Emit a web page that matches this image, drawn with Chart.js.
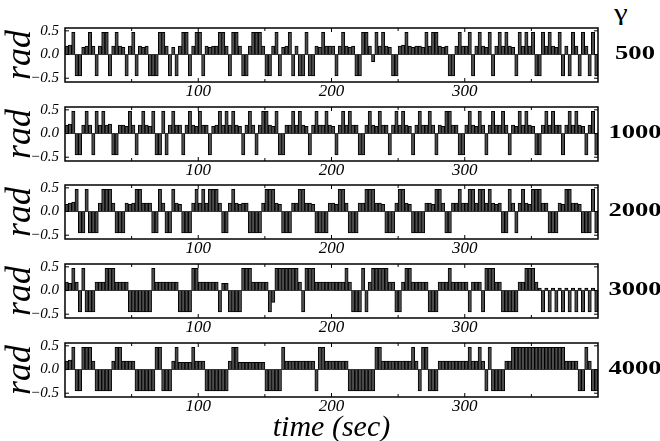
<!DOCTYPE html>
<html>
<head>
<meta charset="utf-8">
<script src="https://cdn.jsdelivr.net/npm/chart.js@4.4.1/dist/chart.umd.min.js"></script>
<style>
  html, body { margin: 0; padding: 0; background: #fff; }
  #page { position: relative; width: 660px; height: 441px; overflow: hidden; }
  .panel { position: absolute; left: 0; }
  .glabel {
    position: absolute; left: 605px; width: 60px; text-align: center;
    font: bold 19px 'Liberation Serif', 'Times New Roman', serif;
    line-height: 20px; color: #000; transform: scaleX(1.4);
  }
  #gamma {
    position: absolute; left: 609px; top: 1px; width: 24px; text-align: center;
    font: 23px 'Liberation Serif', 'Times New Roman', serif;
    line-height: 24px; color: #000; transform: scaleX(1.35);
  }
</style>
</head>
<body>
<div id="page"><div id="gamma">γ</div></div>
<script>
// =================== DATA (rad) ===================
const gammaLabels = ["500", "1000", "2000", "3000", "4000"];
const xTickValues = [50, 100, 150, 200, 250, 300, 350];
const xTickLabels = [100, 200, 300];
const yTickValues = [-0.5, -0.25, 0, 0.25, 0.5];
const yTickLabels = { "0.5": "0.5", "0": "0.0", "-0.5": "\u22120.5" };
const SAMPLE_DT = 2.5; // sec per bar

const u500 = [
  0.18,0.2,0.47,-0.45,-0.45,0.15,0.18,0.47,0.18,-0.45,
  0.18,0.47,0.47,-0.45,0.18,0.47,0.18,0.15,-0.45,0.18,
  0.47,-0.45,0.18,0.15,0.18,-0.45,-0.45,-0.45,0.47,0.47,
  0.18,-0.45,0.15,-0.45,0.18,0.47,0.47,-0.45,0.18,0.47,
  0.47,-0.45,0.18,0.15,0.18,0.18,0.47,0.47,0.18,-0.45,
  0.47,0.47,0.18,-0.45,-0.45,0.18,0.47,0.47,0.47,0.18,
  -0.45,-0.45,0.18,0.47,-0.45,0.15,0.18,0.47,-0.45,0.18,
  -0.45,-0.45,0.47,-0.45,-0.45,0.18,0.15,0.47,0.18,0.18,
  0.18,-0.45,0.18,0.47,0.18,0.15,0.18,-0.45,-0.45,0.47,
  0.47,0.18,-0.15,0.47,0.18,0.47,0.18,0.15,-0.45,-0.45,
  0.18,0.2,0.47,0.18,0.15,0.18,0.18,0.15,0.47,0.18,
  0.47,0.47,0.18,0.15,0.18,-0.45,-0.45,0.18,0.47,0.18,
  0.18,0.47,-0.45,0.18,0.47,0.18,0.15,0.47,-0.45,0.18,
  0.47,0.18,0.47,0.18,0.15,-0.45,0.47,0.18,0.47,0.18,
  0.47,-0.45,-0.45,0.47,0.18,0.47,0.18,0.15,0.47,-0.45,
  0.18,-0.45,0.47,0.18,-0.45,0.47,0.18,-0.45,0.47,-0.45
];
const u1000 = [
  0.18,0.2,0.47,-0.45,-0.45,0.18,0.47,0.18,-0.45,0.47,
  0.18,0.47,0.18,0.2,-0.45,-0.45,0.18,0.18,0.15,0.47,
  0.18,-0.45,0.18,0.47,0.18,0.15,0.47,-0.45,-0.45,0.47,
  -0.45,0.18,0.47,0.18,0.18,-0.45,0.18,0.47,0.18,0.15,
  0.47,0.18,0.18,-0.45,0.15,0.18,0.47,0.18,0.47,0.18,
  0.47,0.18,0.15,-0.45,0.18,0.47,0.18,-0.45,0.18,0.47,
  0.47,0.18,0.15,0.47,-0.45,-0.45,0.18,0.18,0.47,0.18,
  0.47,0.18,0.15,-0.45,0.18,0.47,0.18,0.18,0.47,0.18,
  0.15,-0.45,0.18,0.47,0.18,0.47,0.18,0.18,-0.45,-0.45,
  0.18,0.47,0.18,0.15,0.47,0.18,0.18,-0.45,0.18,0.47,
  0.18,0.47,0.18,0.15,-0.45,0.18,0.47,0.18,0.18,0.47,
  0.18,-0.45,0.18,0.15,0.47,0.47,0.18,0.18,-0.45,-0.45,
  0.18,0.47,0.18,0.15,0.47,0.18,-0.45,0.18,0.47,0.18,
  0.18,0.47,0.18,-0.45,0.18,0.15,0.47,0.18,0.47,0.18,
  0.15,-0.45,-0.45,0.18,0.47,0.18,0.47,0.18,0.18,-0.45,
  0.18,0.47,0.18,0.47,0.18,0.15,-0.45,0.18,0.47,-0.45
];
const u2000 = [
  0.15,0.18,0.2,0.47,-0.45,-0.45,0.47,-0.45,-0.45,-0.45,
  0.18,0.47,0.47,0.47,0.18,-0.45,-0.45,-0.45,0.18,0.15,
  0.18,0.47,0.47,0.18,0.18,0.18,-0.45,-0.45,0.47,0.18,
  -0.45,-0.45,0.47,0.18,0.15,-0.45,-0.45,-0.45,0.18,0.47,
  0.18,0.47,0.18,0.47,0.47,0.47,0.18,-0.45,-0.45,0.18,
  0.47,0.18,0.15,0.18,0.18,-0.45,-0.45,-0.45,-0.45,0.18,
  0.47,0.47,0.47,0.18,0.15,-0.45,-0.45,-0.45,0.18,0.18,
  0.47,0.47,0.18,0.18,0.15,-0.45,-0.45,-0.45,-0.45,0.18,
  0.18,0.15,0.47,0.47,0.18,-0.45,-0.45,-0.45,0.18,0.18,
  0.47,0.47,0.47,0.18,0.18,0.15,-0.45,-0.45,-0.45,0.18,
  0.47,0.47,0.18,0.15,-0.45,-0.45,-0.45,-0.45,0.18,0.18,
  0.15,0.47,0.47,0.18,-0.45,-0.45,0.18,0.18,0.47,0.18,
  0.18,0.47,0.47,0.18,0.47,0.47,0.18,0.47,0.18,0.15,
  0.18,-0.45,-0.45,0.47,0.18,-0.45,0.18,0.47,0.18,0.15,
  0.47,0.47,0.47,0.18,0.18,-0.45,-0.45,-0.45,0.18,0.15,
  0.47,0.47,0.18,0.18,0.15,-0.45,-0.45,-0.45,0.47,-0.45
];
const u3000 = [
  0.18,0.15,0.47,0.18,-0.45,0.47,-0.45,-0.45,-0.45,0.18,
  0.18,0.18,0.47,0.47,0.47,0.18,0.18,0.18,0.18,-0.45,
  -0.45,-0.45,-0.45,-0.45,-0.45,-0.45,0.47,0.18,0.18,0.18,
  0.18,0.18,0.18,0.18,-0.45,-0.45,-0.45,-0.45,0.47,0.47,
  0.18,0.18,0.18,0.18,0.18,0.18,-0.45,0.15,0.15,-0.45,
  -0.45,-0.45,-0.45,0.47,0.47,0.47,0.18,0.18,0.18,0.18,
  0.18,-0.45,-0.25,0.47,0.47,0.47,0.47,0.47,0.47,0.47,
  0.18,-0.45,0.47,0.47,0.47,0.18,0.18,0.18,0.18,0.18,
  0.18,0.18,0.18,0.18,0.47,0.18,-0.45,-0.45,-0.45,0.47,
  -0.45,0.18,0.47,0.47,0.47,0.47,0.47,0.18,0.18,-0.45,
  -0.45,0.18,0.47,0.47,0.18,0.18,0.18,0.18,0.18,-0.45,
  -0.45,-0.45,0.18,0.18,0.18,0.47,0.18,0.18,0.18,0.18,
  0.18,-0.45,0.18,0.18,0.18,-0.45,0.47,0.47,0.47,0.18,
  0.18,-0.45,-0.45,-0.45,-0.45,-0.45,0.18,0.18,0.47,0.47,
  0.47,0.18,0.05,-0.45,0.05,-0.45,0.05,-0.45,0.05,-0.45,
  0.05,-0.45,0.05,-0.45,0.05,-0.45,0.05,-0.45,0.05,-0.45
];
const u4000 = [
  0.18,0.2,0.47,-0.45,-0.45,0.47,0.47,0.47,0.18,-0.45,
  -0.45,-0.45,-0.45,-0.45,0.18,0.47,0.47,0.18,0.18,0.18,
  0.18,-0.45,-0.45,-0.45,-0.45,-0.45,-0.45,0.47,0.47,-0.45,
  -0.45,-0.45,0.18,0.47,0.15,0.15,0.15,0.15,0.47,0.18,
  0.18,0.18,-0.45,-0.45,-0.45,-0.45,-0.45,-0.45,-0.45,0.18,
  0.47,0.47,0.15,0.15,0.15,0.15,0.15,0.15,0.15,0.15,
  -0.45,-0.45,-0.45,-0.45,-0.45,0.47,0.18,0.18,0.18,0.18,
  0.18,0.18,0.18,0.18,0.18,-0.45,0.47,0.47,0.18,0.18,
  0.18,0.18,0.18,0.18,0.18,-0.45,-0.45,-0.45,-0.45,-0.45,
  -0.45,-0.45,-0.45,0.47,0.47,0.18,0.18,0.18,0.18,0.18,
  0.18,0.18,0.18,0.18,0.47,0.18,-0.45,0.47,0.47,-0.45,
  -0.45,-0.45,0.18,0.18,0.18,0.18,0.18,0.18,0.18,0.18,
  0.18,0.47,0.18,0.18,0.47,0.18,-0.45,0.47,-0.45,-0.45,
  -0.45,-0.45,0.18,0.18,0.47,0.47,0.47,0.47,0.47,0.47,
  0.47,0.47,0.47,0.47,0.47,0.47,0.47,0.47,0.47,0.47,
  0.18,0.18,0.18,0.18,-0.45,-0.45,0.47,0.18,-0.45,-0.45
];

const series = [u500, u1000, u2000, u3000, u4000];
const times = u500.map((_, i) => (i + 0.5) * SAMPLE_DT);

// =================== LAYOUT ===================
const SERIF = "'Liberation Serif', 'Times New Roman', serif";
const PAD_TOP = 4;
const PLOT_H = 54;
const AXIS_H = 20;
const AXIS_H_LAST = 46;
const plotTops = [28, 107, 185, 264, 343];

// box with inward ticks on all four sides
const frameTicks = {
  id: "frameTicks",
  afterDatasetsDraw(chart) {
    const { ctx, chartArea: a, scales: { x, y } } = chart;
    ctx.save();
    ctx.strokeStyle = "#000";
    ctx.lineWidth = 1;
    ctx.beginPath();
    x.ticks.forEach((t) => {
      const px = x.getPixelForValue(t.value);
      const len = t.value % 100 === 0 ? 4 : 3;
      ctx.moveTo(px, a.bottom);
      ctx.lineTo(px, a.bottom - len);
      ctx.moveTo(px, a.top);
      ctx.lineTo(px, a.top + len);
    });
    y.ticks.forEach((t) => {
      const py = y.getPixelForValue(t.value);
      const len = Math.abs(t.value) === 0.25 ? 3 : 4;
      ctx.moveTo(a.left, py);
      ctx.lineTo(a.left + len, py);
      ctx.moveTo(a.right, py);
      ctx.lineTo(a.right - len, py);
    });
    ctx.stroke();
    ctx.lineWidth = 1.5;
    ctx.strokeRect(a.left, a.top, a.right - a.left, a.bottom - a.top);
    ctx.restore();
  },
};

// fixed scale boxes: no label overhang padding
function fixBox(size) {
  return (s) => {
    if (s.isHorizontal()) s.height = size;
    else s.width = size;
    s.paddingTop = 0;
    s.paddingBottom = 0;
    s.paddingLeft = 0;
    s.paddingRight = 0;
  };
}

function makePanel(i) {
  const isLast = i === series.length - 1;
  const axisH = isLast ? AXIS_H_LAST : AXIS_H;
  const top = plotTops[i] - PAD_TOP;

  const wrap = document.createElement("div");
  wrap.className = "panel";
  wrap.style.top = top + "px";
  const canvas = document.createElement("canvas");
  canvas.width = 660;
  canvas.height = PAD_TOP + PLOT_H + axisH;
  canvas.style.width = "660px";
  canvas.style.height = canvas.height + "px";
  wrap.appendChild(canvas);
  document.getElementById("page").appendChild(wrap);

  const lab = document.createElement("div");
  lab.className = "glabel";
  lab.style.top = plotTops[i] + PLOT_H / 2 - 12 + "px";
  lab.textContent = gammaLabels[i];
  document.getElementById("page").appendChild(lab);

  new Chart(canvas, {
    type: "bar",
    data: {
      labels: times,
      datasets: [
        {
          data: series[i],
          backgroundColor: "#4d4d4d",
          borderColor: "#000",
          borderWidth: 1,
          borderSkipped: "start",
          barPercentage: 1,
          categoryPercentage: 1,
        },
      ],
    },
    options: {
      responsive: false,
      animation: false,
      layout: { padding: { left: 0, right: 62, top: PAD_TOP, bottom: 0 } },
      plugins: { legend: { display: false }, tooltip: { enabled: false } },
      scales: {
        x: {
          type: "linear",
          min: 0,
          max: 400,
          offset: false,
          grid: { display: false, drawTicks: false },
          border: { display: false },
          afterBuildTicks: (s) => {
            s.ticks = xTickValues.map((v) => ({ value: v }));
          },
          afterFit: fixBox(axisH),
          ticks: {
            autoSkip: false,
            maxRotation: 0,
            padding: 1,
            color: "#000",
            font: { family: SERIF, style: "italic", size: 17, lineHeight: 1 },
            callback: (v) => (xTickLabels.includes(v) ? String(v) : ""),
          },
          title: {
            display: isLast,
            text: "time (sec)",
            color: "#000",
            font: { family: SERIF, style: "italic", size: 30, lineHeight: 1 },
            padding: { top: 0, bottom: 0 },
          },
        },
        y: {
          min: -0.58,
          max: 0.56,
          grid: {
            drawTicks: false,
            lineWidth: 0.8,
            color: (c) => (c.tick && c.tick.value === 0 ? "#000" : "rgba(0,0,0,0)"),
          },
          border: { display: false },
          afterBuildTicks: (s) => {
            s.ticks = yTickValues.map((v) => ({ value: v }));
          },
          afterFit: fixBox(65),
          ticks: {
            padding: 6,
            color: "#000",
            font: { family: SERIF, style: "italic", size: 15 },
            callback: (v) => yTickLabels[String(v)] || "",
          },
          title: {
            display: true,
            text: "rad",
            color: "#000",
            font: { family: SERIF, style: "italic", size: 36, lineHeight: 1 },
            padding: { top: 3, bottom: 0 },
          },
        },
      },
    },
    plugins: [frameTicks],
  });
}

series.forEach((_, i) => makePanel(i));
</script>
</body>
</html>
